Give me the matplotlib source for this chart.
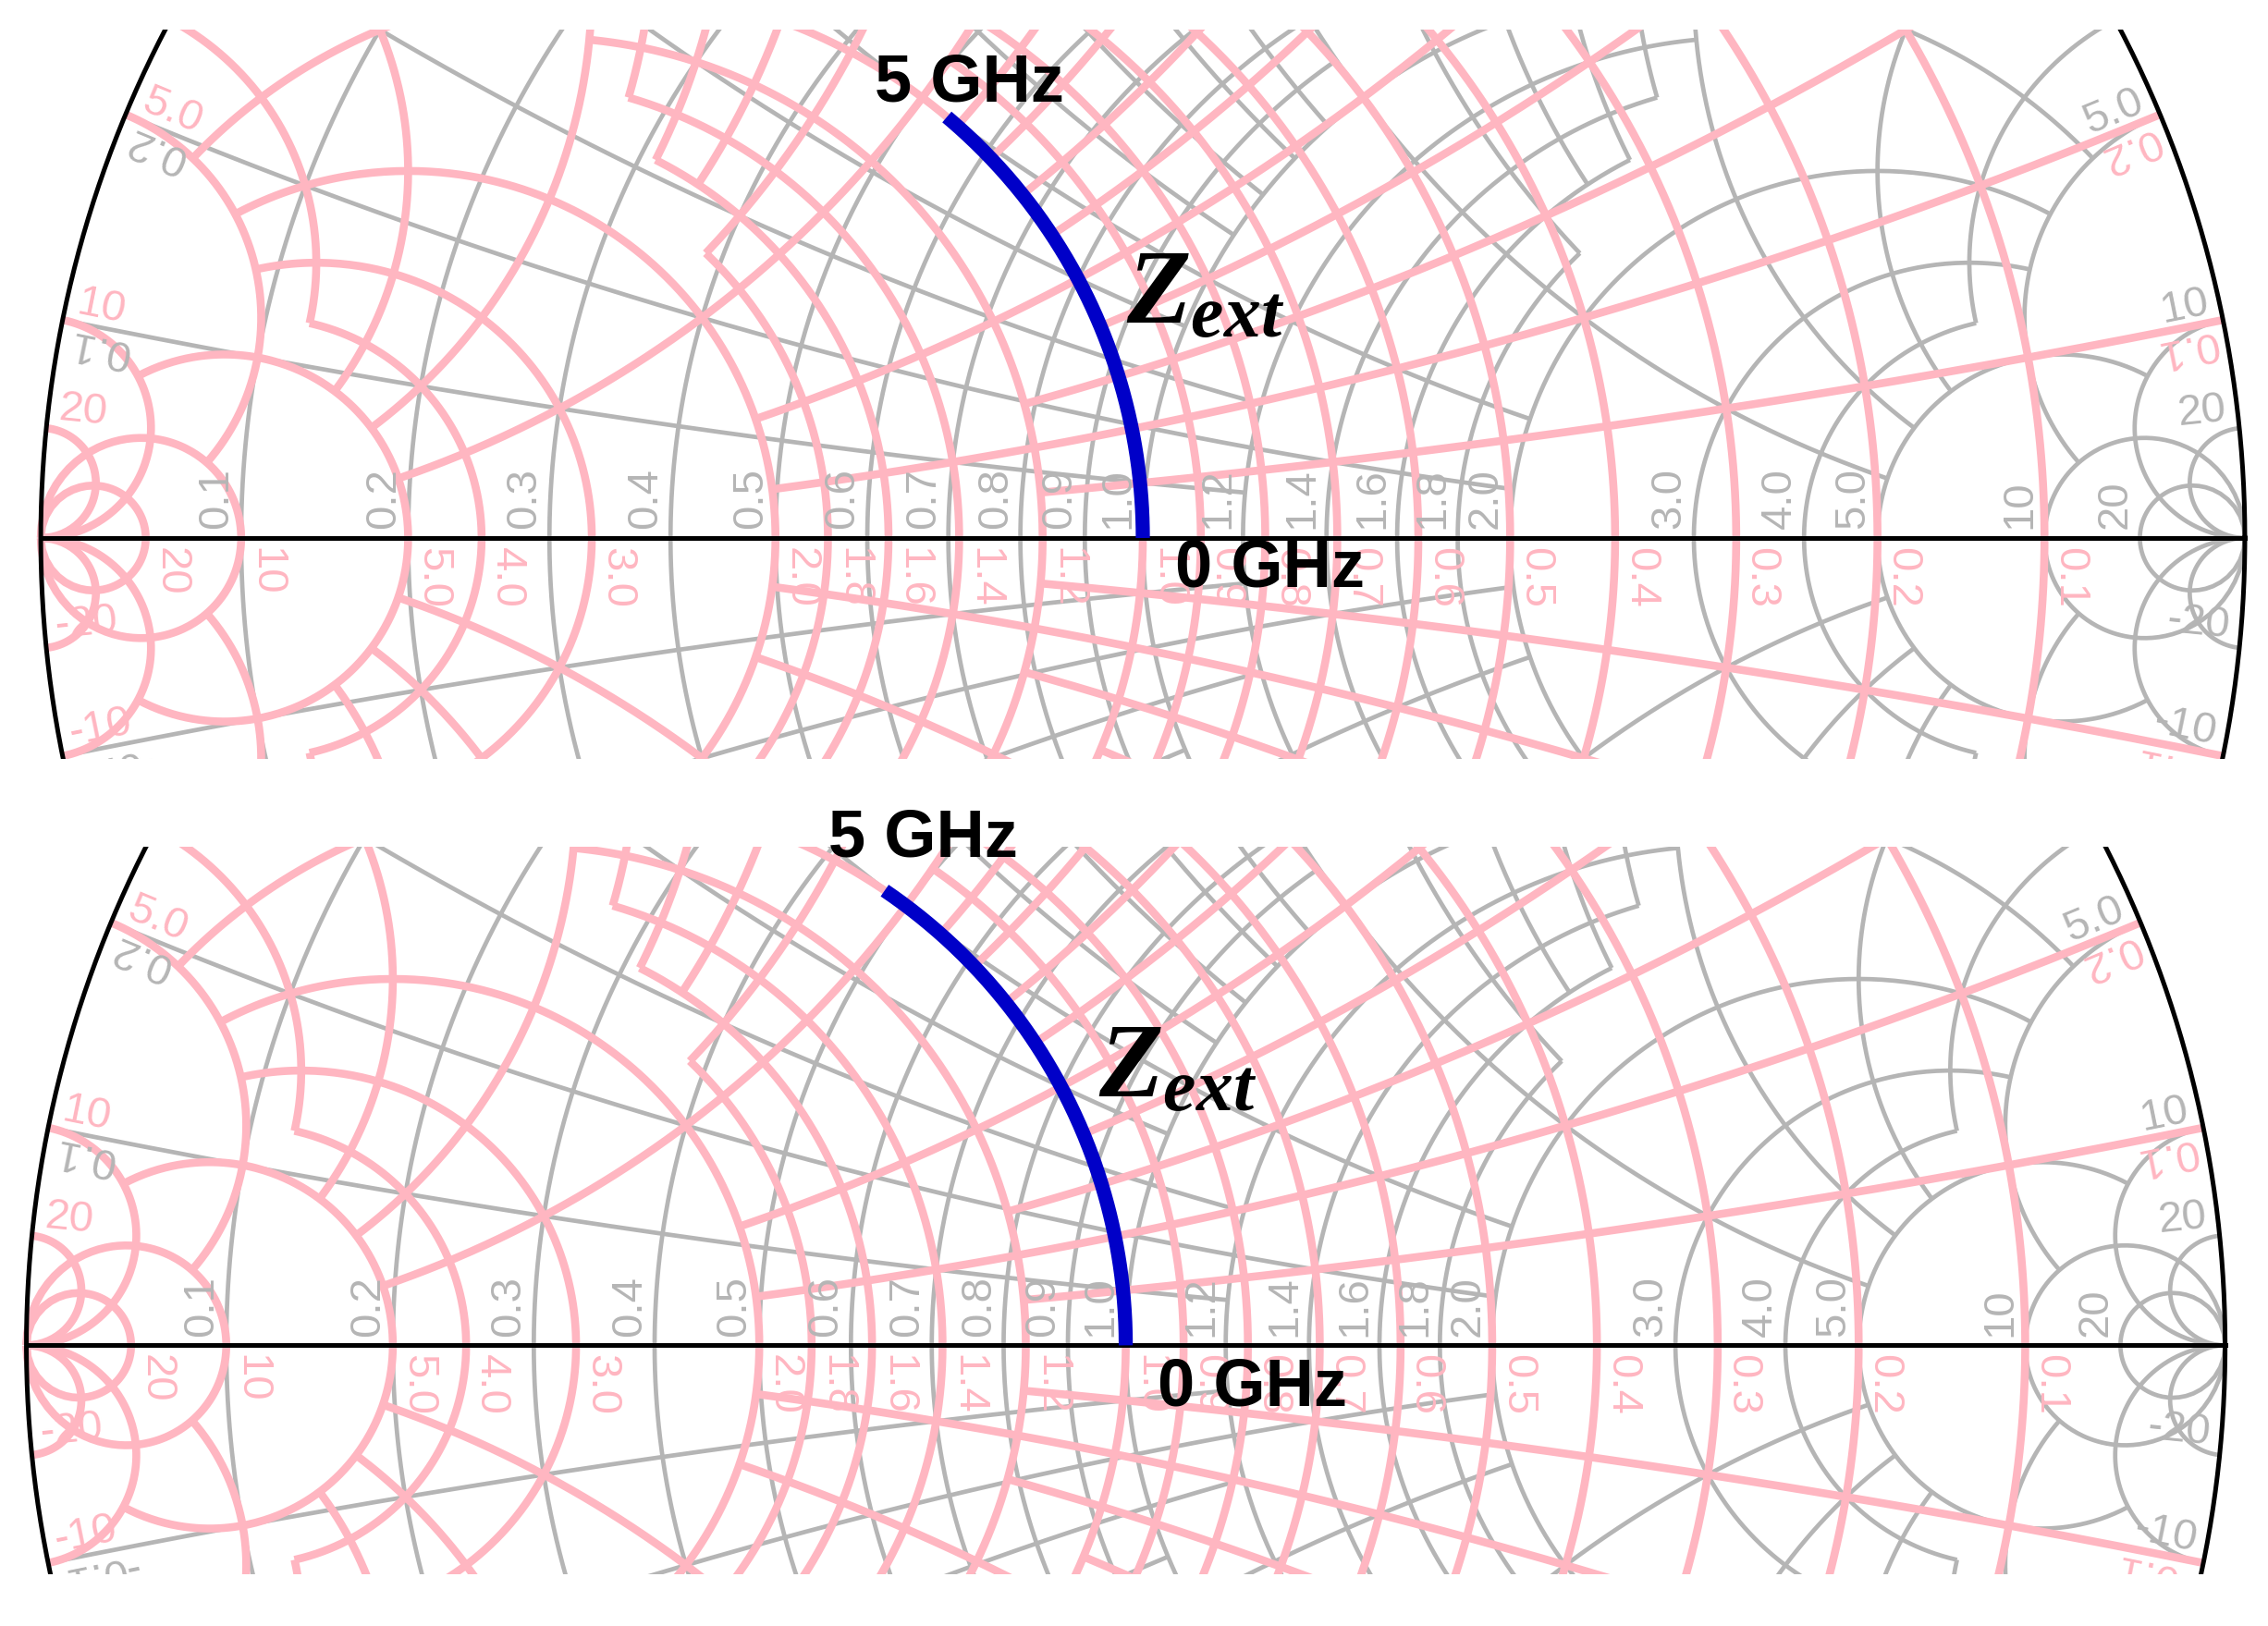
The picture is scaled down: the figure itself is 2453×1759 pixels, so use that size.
import numpy as np
import matplotlib
matplotlib.use("Agg")
import matplotlib.pyplot as plt

plt.rcParams['font.family'] = ['Liberation Sans', 'DejaVu Sans']
plt.rcParams['mathtext.fontset'] = 'custom'
plt.rcParams['mathtext.it'] = 'Liberation Serif:italic:bold'
plt.rcParams['mathtext.rm'] = 'Liberation Serif:bold'

INF = np.inf
# grid tick values (resistance / reactance)
grid_ticks = [0, 0.1, 0.2, 0.3, 0.4, 0.5, 0.6, 0.7, 0.8, 0.9, 1.0,
              1.2, 1.4, 1.6, 1.8, 2.0, 3.0, 4.0, 5.0, 10, 20, INF]
coarse_ticks = [0, 0.2, 0.5, 1.0, 2.0, 5.0, 10, 20, INF]
label_ticks = [0.1, 0.2, 0.3, 0.4, 0.5, 0.6, 0.7, 0.8, 0.9, 1.0,
               1.2, 1.4, 1.6, 1.8, 2.0, 3.0, 4.0, 5.0, 10, 20]
edge_ticks = [0.1, 0.2, 0.5, 1.0, 2.0, 5.0, 10, 20,
              -0.1, -0.2, -0.5, -1.0, -2.0, -5.0, -10, -20]

# Z_ext trajectory: normalised shunt susceptance from 0 GHz to 5 GHz
freq_ghz = [0, 1, 2, 3, 4, 5]
b_top = [0.0, -0.12, -0.28, -0.47, -0.69, -0.93]
b_bottom = [0.0, -0.14, -0.33, -0.56, -0.81, -1.06]

GRAY = '#b5b5b5'
PINK = '#ffb6c1'
THR = 0.04
LABEL_FS = 34


def gamma(r, x):
    z = np.asarray(r) + 1j * np.asarray(x)
    with np.errstate(all='ignore'):
        g = (z - 1) / (z + 1)
    g = np.where(np.isinf(np.asarray(r)) | np.isinf(np.asarray(x)), 1 + 0j, g)
    return g


def spacing(t, sets, var, at):
    # distance to nearest neighbour line within the tick's own level
    for s in sets:
        if t in s:
            idx = s.index(t)
            break
    d = []
    for j in (idx - 1, idx + 1):
        if 0 <= j < len(s):
            if var == 'r':
                d.append(abs(gamma(s[j], at) - gamma(t, at)))
            else:
                d.append(abs(gamma(at, s[j]) - gamma(at, t)))
    return min(d)


def draw_grid(ax, color, lw, flip):
    sets = [[0, 1.0, INF], coarse_ticks, grid_ticks]
    pos = [t for t in grid_ticks if t > 0]
    sgn = -1 if flip else 1
    # resistance circles
    for r in grid_ticks[1:-1]:
        lim = pos[0]
        for xt in pos:
            if spacing(r, sets, 'r', xt) >= THR:
                lim = xt
        if r >= 10:
            lim = INF
        ph = np.linspace(-np.arctan(lim), np.arctan(lim), 600)
        g = gamma(r, np.tan(np.clip(ph, -1.5707, 1.5707)))
        ax.plot(sgn * g.real, g.imag, color=color, lw=lw, solid_capstyle='butt')
    # reactance arcs
    for x in pos[:-1]:
        lim = pos[0]
        for rt in pos:
            if spacing(x, sets, 'x', rt) >= THR:
                lim = rt
        if x >= 10:
            lim = INF
        ph = np.linspace(0, np.arctan(lim), 600)
        rr = np.tan(np.clip(ph, 0, 1.5707))
        for s in (1, -1):
            g = gamma(rr, s * x)
            ax.plot(sgn * g.real, g.imag, color=color, lw=lw, solid_capstyle='butt')


def fmt(v):
    return ('%d' % v) if abs(v) >= 10 else ('%.1f' % v)


def draw_labels(ax):
    for r in label_ticks:
        g = gamma(r, 0).real
        ax.text(g - 0.004, 0.008, fmt(r), rotation=90, rotation_mode='anchor',
                ha='left', va='bottom', color=GRAY, fontsize=LABEL_FS, clip_on=True)
        ax.text(-g + 0.004, -0.008, fmt(r), rotation=-90, rotation_mode='anchor',
                ha='left', va='bottom', color=PINK, fontsize=LABEL_FS, clip_on=True)
    for x in edge_ticks:
        g = complex(gamma(0, x))
        th = np.degrees(np.angle(g))
        p = 0.99 * g
        ax.text(p.real, p.imag, fmt(x), rotation=th, rotation_mode='anchor',
                ha='right', va='bottom', color=GRAY, fontsize=LABEL_FS, clip_on=True)
        q = -np.conj(g) * 0.99
        ax.text(q.real, q.imag, fmt(x), rotation=-th, rotation_mode='anchor',
                ha='left', va='bottom', color=PINK, fontsize=LABEL_FS, clip_on=True)


def panel(ax, b, xlim, ylim, t5, t0, tz):
    draw_grid(ax, GRAY, 3.4, False)
    draw_grid(ax, PINK, 6.2, True)
    t = np.linspace(0, 2 * np.pi, 800)
    ax.plot(np.cos(t), np.sin(t), color='black', lw=3.6)
    ax.plot([-1, 1], [0, 0], color='black', lw=3.6)
    draw_labels(ax)
    # trajectory along g = 1 circle
    bb = np.interp(np.linspace(0, 5, 200), freq_ghz, b)
    y = 1 + 1j * bb
    g = (1 - y) / (1 + y)
    ax.plot(g.real, g.imag, color='#0000c8', lw=11, solid_capstyle='butt', zorder=5)
    ax.text(*t5, '5 GHz', fontsize=52, fontweight='bold', ha='center', va='center',
            zorder=6, clip_on=False)
    ax.text(*t0, '0 GHz', fontsize=52, fontweight='bold', ha='left', va='center', zorder=6)
    ax.text(*tz, r'$Z_{ext}$', fontsize=82, ha='left', va='center', zorder=6)
    ax.set_xlim(*xlim)
    ax.set_ylim(*ylim)
    ax.axis('off')


fig = plt.figure(figsize=(24.53, 17.59), dpi=100)
ax1 = fig.add_axes([0, 0.533, 1, 0.449])
panel(ax1, b_top, (-1.037, 1.021), (-0.201, 0.462),
      (-0.157, 0.413), (0.029, -0.028), (-0.015, 0.219))
ax2 = fig.add_axes([0, 0.032, 1, 0.4475])
panel(ax2, b_bottom, (-1.024, 1.039), (-0.208, 0.454),
      (-0.184, 0.461), (0.029, -0.039), (-0.025, 0.25))
fig.savefig('out.png', dpi=100)
